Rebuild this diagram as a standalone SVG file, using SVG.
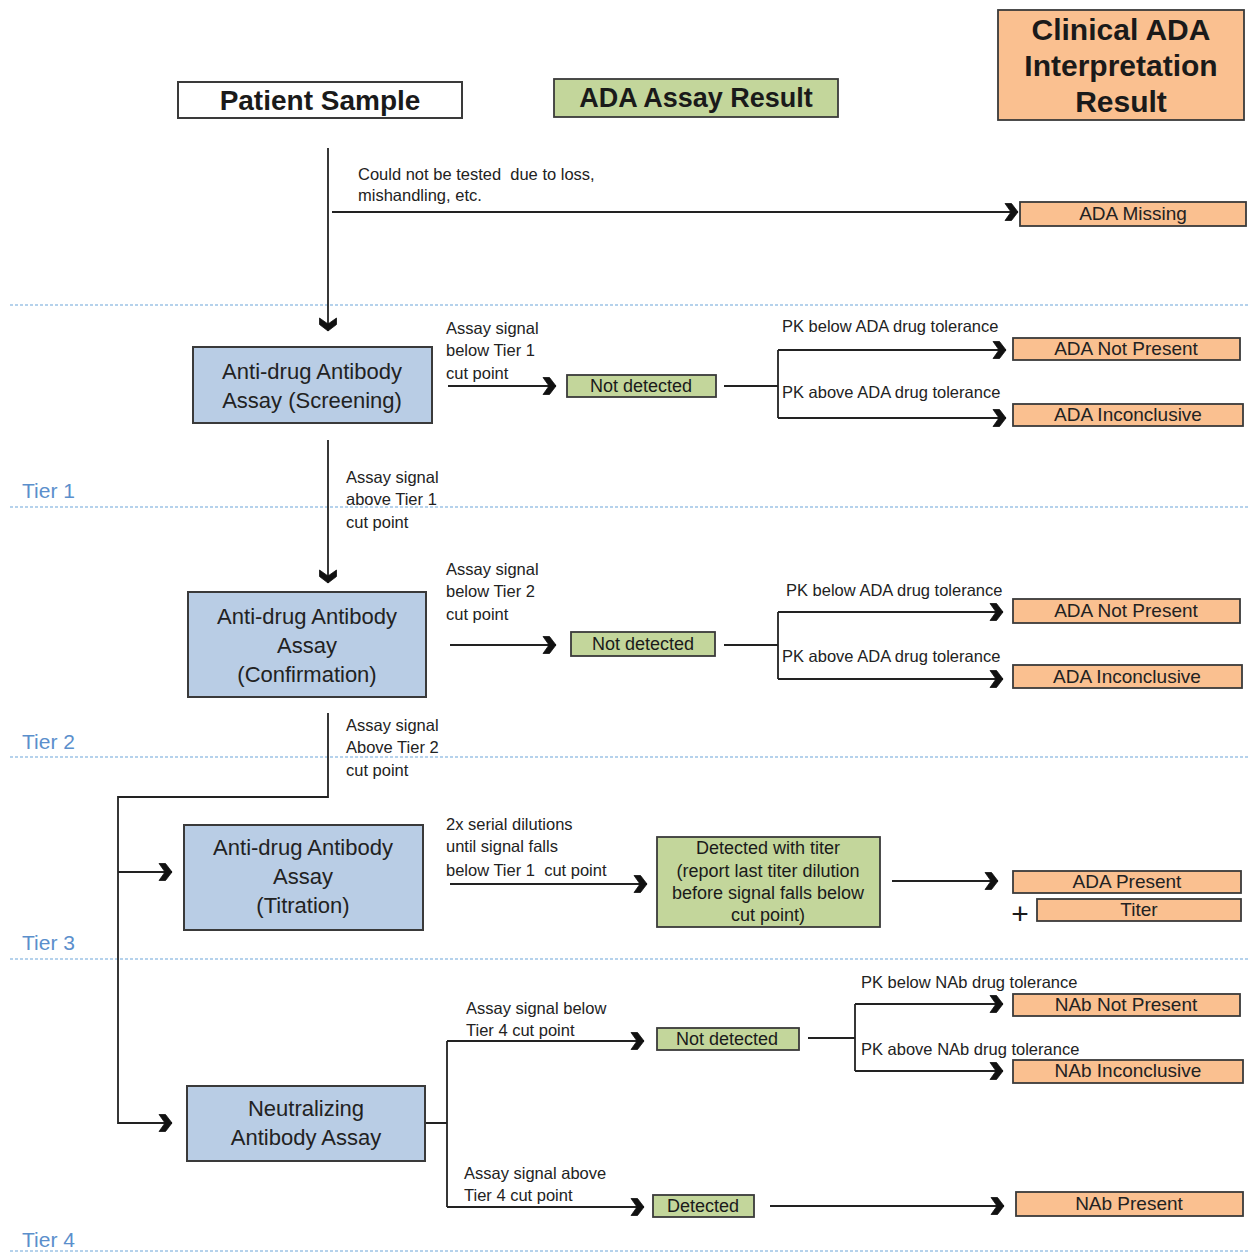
<svg xmlns="http://www.w3.org/2000/svg" width="1248" height="1253" viewBox="0 0 1248 1253">
<style>
text{font-family:"Liberation Sans",Arial,sans-serif;fill:#1a1a1a;white-space:pre}
.hdr{font-size:28px;font-weight:bold}
.blue rect{fill:#b9cde5;stroke:#3a3a3a;stroke-width:2}
.blue text{font-size:22px;text-anchor:middle;fill:#222}
.green rect{fill:#c3d69b;stroke:#3a3a3a;stroke-width:1.8}
.green text{font-size:18px;text-anchor:middle}
.orange rect{fill:#fac090;stroke:#3a3a3a;stroke-width:1.8}
.orange text{font-size:19px;text-anchor:middle;fill:#222}
.lbl{font-size:16.5px;fill:#222}
.tier{font-size:21px;fill:#5b8fcc}
.dash{stroke:#9dc3e6;stroke-width:1.5;stroke-dasharray:3 2;fill:none}
#connectors path{fill:none;stroke:#222;stroke-width:1.8}
.arr{marker-end:url(#chev)}
</style>
<defs>
<marker id="chev" markerUnits="userSpaceOnUse" markerWidth="22" markerHeight="22" viewBox="-6 -11 22 22" refX="11" refY="0" orient="auto">
<path d="M-2,-8.5 L4.5,-8.5 L11,0 L4.5,8.5 L-2,8.5 L4,0 Z" fill="#111" stroke="#111" stroke-width="0.8" stroke-linejoin="round"/>
</marker>
</defs>
<rect width="1248" height="1253" fill="#fff"/>
<g id="tier-lines">
<line class="dash" x1="10" y1="305" x2="1248" y2="305"/>
<line class="dash" x1="10" y1="507" x2="1248" y2="507"/>
<line class="dash" x1="10" y1="757" x2="1248" y2="757"/>
<line class="dash" x1="10" y1="959" x2="1248" y2="959"/>
<line class="dash" x1="10" y1="1251" x2="1248" y2="1251"/>
<text class="tier" x="22" y="498">Tier 1</text>
<text class="tier" x="22" y="749">Tier 2</text>
<text class="tier" x="22" y="950">Tier 3</text>
<text class="tier" x="22" y="1247">Tier 4</text>
</g>
<g id="hdr-patient"><rect x="178" y="82" width="284" height="36" fill="#fff" stroke="#3a3a3a" stroke-width="2"/><text class="hdr" x="320" y="110" text-anchor="middle">Patient Sample</text></g>
<g id="hdr-assay" class="green"><rect x="554" y="79" width="284" height="38"/><text class="hdr" x="696" y="107" style="font-size:27px">ADA Assay Result</text></g>
<g id="hdr-clinical" class="orange"><rect x="998" y="10" width="246" height="110"/><text x="1121" y="40" style="font-size:30px;font-weight:bold;fill:#1a1a1a">Clinical ADA</text><text x="1121" y="76" style="font-size:30px;font-weight:bold;fill:#1a1a1a">Interpretation</text><text x="1121" y="112" style="font-size:30px;font-weight:bold;fill:#1a1a1a">Result</text></g>

<g id="connectors">
<path class="arr" d="M328,148 V331"/>
<path class="arr" d="M332,212 H1018"/>
<path class="arr" d="M448,386 H556"/>
<path d="M724,386 H778 M778,350 V418"/>
<path class="arr" d="M778,350 H1006"/>
<path class="arr" d="M778,418 H1006"/>
<path class="arr" d="M328,440 V583"/>
<path class="arr" d="M450,645 H556"/>
<path d="M724,645 H778 M778,612 V679"/>
<path class="arr" d="M778,612 H1003"/>
<path class="arr" d="M778,679 H1003"/>
<path class="arr" d="M328,713 V797 H118 V1123 H172"/>
<path class="arr" d="M118,872 H172"/>
<path class="arr" d="M450,884 H647"/>
<path class="arr" d="M892,881 H998"/>
<path d="M425,1123 H447 M447,1041 V1207"/>
<path class="arr" d="M447,1041 H644"/>
<path class="arr" d="M447,1207 H644"/>
<path d="M808,1038 H855 M855,1004 V1071"/>
<path class="arr" d="M855,1004 H1003"/>
<path class="arr" d="M855,1071 H1003"/>
<path class="arr" d="M770,1206 H1004"/>
</g>

<g id="labels">
<text class="lbl" x="358" y="180">Could not be tested  due to loss,</text>
<text class="lbl" x="358" y="201">mishandling, etc.</text>
<text class="lbl" x="446" y="334">Assay signal</text>
<text class="lbl" x="446" y="356">below Tier 1</text>
<text class="lbl" x="446" y="379">cut point</text>
<text class="lbl" x="782" y="332">PK below ADA drug tolerance</text>
<text class="lbl" x="782" y="398">PK above ADA drug tolerance</text>
<text class="lbl" x="346" y="483">Assay signal</text>
<text class="lbl" x="346" y="505">above Tier 1</text>
<text class="lbl" x="346" y="528">cut point</text>
<text class="lbl" x="446" y="575">Assay signal</text>
<text class="lbl" x="446" y="597">below Tier 2</text>
<text class="lbl" x="446" y="620">cut point</text>
<text class="lbl" x="786" y="596">PK below ADA drug tolerance</text>
<text class="lbl" x="782" y="662">PK above ADA drug tolerance</text>
<text class="lbl" x="346" y="731">Assay signal</text>
<text class="lbl" x="346" y="753">Above Tier 2</text>
<text class="lbl" x="346" y="776">cut point</text>
<text class="lbl" x="446" y="830">2x serial dilutions</text>
<text class="lbl" x="446" y="852">until signal falls</text>
<text class="lbl" x="446" y="876">below Tier 1  cut point</text>
<text class="lbl" x="466" y="1014">Assay signal below</text>
<text class="lbl" x="466" y="1036">Tier 4 cut point</text>
<text class="lbl" x="861" y="988">PK below NAb drug tolerance</text>
<text class="lbl" x="861" y="1055">PK above NAb drug tolerance</text>
<text class="lbl" x="464" y="1179">Assay signal above</text>
<text class="lbl" x="464" y="1201">Tier 4 cut point</text>
<text x="1020" y="924" text-anchor="middle" style="font-size:30px">+</text>
</g>

<g id="n-screening" class="blue"><rect x="193" y="347" width="239" height="76"/><text x="312" y="379">Anti-drug Antibody</text><text x="312" y="408">Assay (Screening)</text></g>
<g id="n-confirmation" class="blue"><rect x="188" y="592" width="238" height="105"/><text x="307" y="624">Anti-drug Antibody</text><text x="307" y="653">Assay</text><text x="307" y="682">(Confirmation)</text></g>
<g id="n-titration" class="blue"><rect x="184" y="825" width="239" height="105"/><text x="303" y="855">Anti-drug Antibody</text><text x="303" y="884">Assay</text><text x="303" y="913">(Titration)</text></g>
<g id="n-nab" class="blue"><rect x="187" y="1086" width="238" height="75"/><text x="306" y="1116">Neutralizing</text><text x="306" y="1145">Antibody Assay</text></g>

<g id="r-nd1" class="green"><rect x="567" y="375" width="149" height="22"/><text x="641" y="392">Not detected</text></g>
<g id="r-nd2" class="green"><rect x="571" y="632" width="144" height="24"/><text x="643" y="650">Not detected</text></g>
<g id="r-titer" class="green"><rect x="657" y="837" width="223" height="90"/><text x="768" y="854">Detected with titer</text><text x="768" y="877">(report last titer dilution</text><text x="768" y="899">before signal falls below</text><text x="768" y="921">cut point)</text></g>
<g id="r-nd3" class="green"><rect x="657" y="1028" width="142" height="22"/><text x="727" y="1045">Not detected</text></g>
<g id="r-det" class="green"><rect x="653" y="1195" width="101" height="22"/><text x="703" y="1212">Detected</text></g>

<g id="c-missing" class="orange"><rect x="1020" y="202" width="226" height="24"/><text x="1133" y="220">ADA Missing</text></g>
<g id="c-np1" class="orange"><rect x="1013" y="338" width="227" height="22"/><text x="1126" y="355">ADA Not Present</text></g>
<g id="c-inc1" class="orange"><rect x="1013" y="404" width="230" height="22"/><text x="1128" y="421">ADA Inconclusive</text></g>
<g id="c-np2" class="orange"><rect x="1013" y="599" width="227" height="24"/><text x="1126" y="617">ADA Not Present</text></g>
<g id="c-inc2" class="orange"><rect x="1013" y="665" width="229" height="23"/><text x="1127" y="683">ADA Inconclusive</text></g>
<g id="c-present" class="orange"><rect x="1013" y="871" width="228" height="22"/><text x="1127" y="888">ADA Present</text></g>
<g id="c-titer" class="orange"><rect x="1037" y="899" width="204" height="22"/><text x="1139" y="916">Titer</text></g>
<g id="c-nabnp" class="orange"><rect x="1013" y="994" width="227" height="22"/><text x="1126" y="1011">NAb Not Present</text></g>
<g id="c-nabinc" class="orange"><rect x="1013" y="1060" width="230" height="23"/><text x="1128" y="1077">NAb Inconclusive</text></g>
<g id="c-nabp" class="orange"><rect x="1016" y="1192" width="227" height="24"/><text x="1129" y="1210">NAb Present</text></g>
</svg>
